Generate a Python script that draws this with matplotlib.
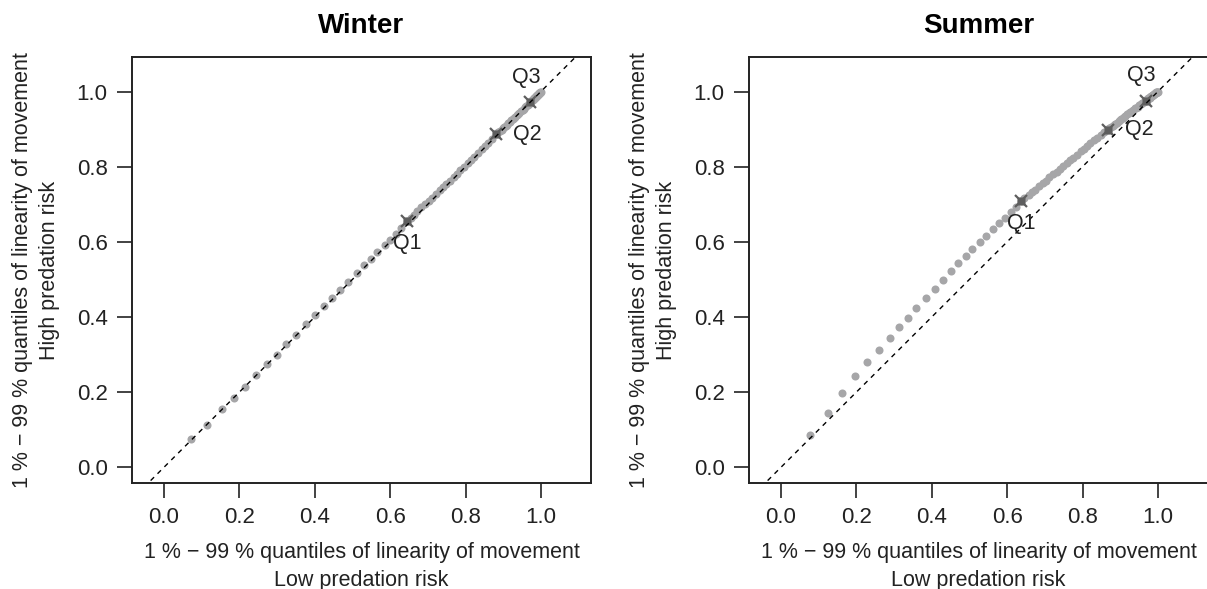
import numpy as np
import matplotlib
matplotlib.use("Agg")
import matplotlib.pyplot as plt

plt.rcParams["font.family"] = ["Liberation Sans", "DejaVu Sans"]

# 1 % - 99 % quantiles, low predation risk (x) vs high predation risk (y)
winter_low = [
    0.072, 0.114, 0.153, 0.185, 0.215, 0.244, 0.272, 0.299, 0.324, 0.350,
    0.377, 0.401, 0.424, 0.446, 0.467, 0.489, 0.511, 0.531, 0.548, 0.566,
    0.586, 0.599, 0.615, 0.630, 0.645,
    0.655, 0.664, 0.672, 0.683, 0.693, 0.702, 0.710, 0.721, 0.731, 0.740,
    0.748, 0.758, 0.769, 0.777, 0.786, 0.796, 0.806, 0.814, 0.823, 0.834,
    0.843, 0.851, 0.861, 0.871, 0.880,
    0.884, 0.887, 0.891, 0.896, 0.899, 0.902, 0.907, 0.910, 0.913, 0.917,
    0.922, 0.925, 0.928, 0.932, 0.937, 0.940, 0.943, 0.947, 0.952, 0.955,
    0.958, 0.961, 0.965, 0.969, 0.972,
    0.974, 0.975, 0.977, 0.978, 0.979, 0.981, 0.982, 0.983, 0.984, 0.985,
    0.986, 0.987, 0.988, 0.989, 0.990, 0.991, 0.992, 0.993, 0.994, 0.995,
    0.996, 0.997, 0.998, 1.000,
]
winter_high = [
    0.074, 0.113, 0.155, 0.183, 0.214, 0.246, 0.274, 0.300, 0.328, 0.353,
    0.381, 0.404, 0.429, 0.451, 0.472, 0.494, 0.516, 0.537, 0.553, 0.572,
    0.592, 0.606, 0.622, 0.638, 0.655,
    0.664, 0.672, 0.681, 0.692, 0.701, 0.709, 0.717, 0.728, 0.737, 0.745,
    0.753, 0.763, 0.773, 0.781, 0.790, 0.799, 0.809, 0.817, 0.826, 0.836,
    0.846, 0.854, 0.864, 0.873, 0.886,
    0.889, 0.892, 0.895, 0.899, 0.902, 0.905, 0.909, 0.912, 0.915, 0.919,
    0.923, 0.926, 0.930, 0.933, 0.937, 0.940, 0.943, 0.947, 0.951, 0.954,
    0.958, 0.961, 0.965, 0.968, 0.972,
    0.974, 0.975, 0.977, 0.978, 0.979, 0.980, 0.982, 0.983, 0.984, 0.985,
    0.986, 0.987, 0.988, 0.989, 0.990, 0.991, 0.992, 0.993, 0.994, 0.995,
    0.996, 0.997, 0.998, 1.000,
]
summer_low = [
    0.077, 0.125, 0.163, 0.196, 0.229, 0.261, 0.288, 0.313, 0.336, 0.359,
    0.385, 0.408, 0.429, 0.450, 0.470, 0.490, 0.508, 0.527, 0.545, 0.562,
    0.579, 0.595, 0.610, 0.624, 0.637,
    0.646, 0.657, 0.665, 0.674, 0.685, 0.694, 0.702, 0.712, 0.723, 0.731,
    0.739, 0.749, 0.759, 0.767, 0.775, 0.785, 0.795, 0.803, 0.811, 0.821,
    0.830, 0.838, 0.848, 0.858, 0.867,
    0.871, 0.875, 0.880, 0.883, 0.886, 0.891, 0.896, 0.899, 0.902, 0.907,
    0.911, 0.914, 0.919, 0.924, 0.927, 0.930, 0.935, 0.940, 0.943, 0.946,
    0.951, 0.956, 0.959, 0.963, 0.968,
    0.970, 0.972, 0.973, 0.975, 0.976, 0.978, 0.979, 0.980, 0.982, 0.983,
    0.984, 0.986, 0.987, 0.988, 0.989, 0.990, 0.991, 0.993, 0.994, 0.995,
    0.996, 0.997, 0.998, 1.000,
]
summer_high = [
    0.087, 0.145, 0.198, 0.242, 0.280, 0.313, 0.343, 0.372, 0.398, 0.425,
    0.450, 0.475, 0.499, 0.522, 0.543, 0.563, 0.581, 0.599, 0.616, 0.633,
    0.649, 0.664, 0.679, 0.694, 0.708,
    0.716, 0.725, 0.732, 0.739, 0.748, 0.756, 0.763, 0.772, 0.781, 0.787,
    0.794, 0.802, 0.811, 0.817, 0.824, 0.832, 0.841, 0.847, 0.854, 0.862,
    0.870, 0.876, 0.884, 0.892, 0.899,
    0.902, 0.905, 0.909, 0.911, 0.913, 0.917, 0.921, 0.923, 0.926, 0.930,
    0.933, 0.935, 0.939, 0.943, 0.945, 0.947, 0.951, 0.955, 0.957, 0.959,
    0.963, 0.967, 0.969, 0.972, 0.976,
    0.978, 0.979, 0.980, 0.982, 0.983, 0.984, 0.985, 0.986, 0.987, 0.988,
    0.989, 0.990, 0.991, 0.992, 0.993, 0.993, 0.994, 0.995, 0.996, 0.997,
    0.998, 0.998, 0.999, 1.000,
]

quartile_idx = [24, 49, 74]
quartile_names = ["Q1", "Q2", "Q3"]
ticks = [0.0, 0.2, 0.4, 0.6, 0.8, 1.0]

panels = [
    ("Winter", winter_low, winter_high),
    ("Summer", summer_low, summer_high),
]

xlab = "1 % \u2212 99 % quantiles of linearity of movement\nLow predation risk"
ylab = "1 % \u2212 99 % quantiles of linearity of movement\nHigh predation risk"

# label offsets (points) for Q1 below, Q2 right, Q3 above
label_offsets = [(0, -16), (23, 0), (-3, 18)]

W, H = 1207, 589
fig = plt.figure(figsize=(W / 100, H / 100), dpi=100)

ax_rects = [
    (132 / W, 106 / H, 459 / W, 426 / H),
    (749 / W, 106 / H, 459 / W, 426 / H),
]

for (title, xs, ys), rect in zip(panels, ax_rects):
    ax = fig.add_axes(rect)
    xs = np.array(xs)
    ys = np.array(ys)

    ax.plot(xs, ys, "o", color="#a6a6a8", ms=5.8, mec="none", zorder=2)
    ax.plot(xs[quartile_idx], ys[quartile_idx], "s", color="#5e5e5e",
            ms=5.5, mec="none", zorder=3)
    ax.plot(xs[quartile_idx], ys[quartile_idx], "x", color="#5e5e5e",
            ms=8, mew=1.6, zorder=3)
    ax.plot([-0.2, 1.3], [-0.2, 1.3], ls=(0, (3.5, 3.5)), color="black",
            lw=1.0, zorder=4)

    for i, name, off in zip(quartile_idx, quartile_names, label_offsets):
        ax.annotate(name, (xs[i], ys[i]), xytext=off, textcoords="offset points",
                    ha="center", va="center", fontsize=15.5, color="#222222",
                    zorder=5)

    ax.set_xlim(-0.085, 1.133)
    ax.set_ylim(-0.042, 1.092)
    ax.set_xticks(ticks, [f"{t:.1f}" for t in ticks])
    ax.set_yticks(ticks, [f"{t:.1f}" for t in ticks])
    ax.tick_params(direction="out", length=10.5, width=1.2, colors="#222222",
                   labelsize=16, pad=7)
    for sp in ax.spines.values():
        sp.set_linewidth(1.4)
        sp.set_color("#222222")

    ax.set_title(title, fontsize=20, fontweight="bold", pad=17)
    ax.set_xlabel(xlab, fontsize=15.5, linespacing=1.4, labelpad=10, color="#222222")
    ax.set_ylabel(ylab, fontsize=15.5, linespacing=1.4, labelpad=12, color="#222222")

fig.savefig("out.png", dpi=100)
